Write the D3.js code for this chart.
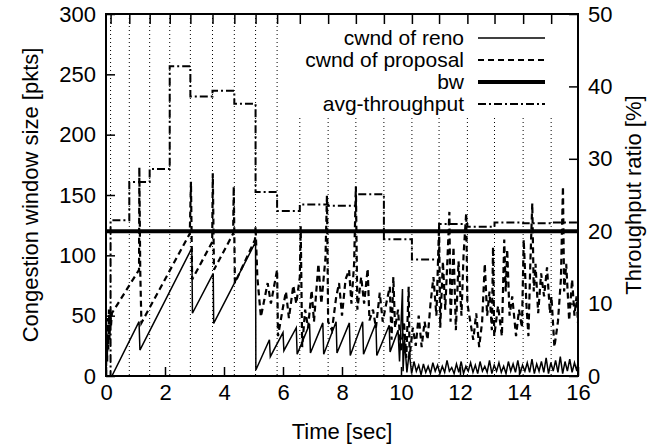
<!DOCTYPE html>
<html>
<head>
<meta charset="utf-8">
<style>
  body { margin: 0; background: #fff; }
  text { font-family: "Liberation Sans", Arial, sans-serif; font-size: 22px; fill: #000; }
</style>
</head>
<body>
<script src="https://cdn.jsdelivr.net/npm/d3@7"></script>
<script>

// cwnd of reno [time sec, pkts]
var renoCwnd = [[0, 0], [0.2, 0], [1.12, 45], [1.15, 21.5], [2.91, 106], [2.93, 52],
  [3.635, 85], [3.65, 43.6], [5.07, 111], [5.08, 5],
  [5.54, 30], [5.57, 16], [6.0, 36], [6.03, 21], [6.45, 40], [6.48, 18], [6.9, 43], [6.93, 19],
  [7.35, 44], [7.38, 18], [7.8, 45], [7.83, 19], [8.25, 44], [8.28, 17], [8.7, 45], [8.73, 18],
  [9.15, 44], [9.18, 17], [9.6, 42], [9.63, 20], [9.9, 38], [9.95, 12], [10.05, 72], [10.07, 4],
  [10.12, 30], [10.2, 3], [10.28, 20], [10.36, 2], [10.44, 12], [10.52, 4], [10.6, 9], [10.68, 1],
  [10.76, 10], [10.84, 3], [10.92, 8], [11.0, 2], [11.08, 11], [11.16, 4], [11.24, 9], [11.32, 2],
  [11.4, 8], [11.48, 3], [11.56, 13], [11.64, 4], [11.72, 7], [11.8, 2], [11.88, 10], [11.96, 3],
  [12.04, 12], [12.12, 2], [12.2, 8], [12.28, 4], [12.36, 11], [12.44, 3], [12.52, 9], [12.6, 2],
  [12.68, 12], [12.76, 4], [12.84, 8], [12.92, 3], [13.0, 13], [13.08, 2], [13.16, 9], [13.24, 4],
  [13.32, 11], [13.4, 3], [13.48, 8], [13.56, 2], [13.64, 12], [13.72, 4], [13.8, 10], [13.88, 3],
  [13.96, 13], [14.04, 2], [14.12, 9], [14.2, 4], [14.28, 11], [14.36, 3], [14.44, 14], [14.52, 2],
  [14.6, 10], [14.68, 4], [14.76, 12], [14.84, 3], [14.92, 15], [15.0, 2], [15.08, 11], [15.16, 4],
  [15.24, 13], [15.32, 3], [15.4, 16], [15.48, 2], [15.56, 12], [15.64, 4], [15.72, 14], [15.8, 3],
  [15.88, 11], [15.96, 4], [16.0, 12]];

// cwnd of proposal [time sec, pkts]
var propCwnd = [[0, 0], [0.02, 35], [0.04, 12], [0.06, 48], [0.08, 22], [0.1, 55], [0.12, 30],
  [0.145, 55], [0.17, 42], [0.2, 52],
  [1.12, 88], [1.13, 173], [1.16, 88], [1.2, 44], [2.84, 118], [2.88, 161], [2.92, 80],
  [3.6, 111], [3.62, 168], [3.66, 88], [4.31, 118], [4.33, 157], [4.37, 77], [5.05, 113], [5.07, 124],
  [5.13, 82], [5.25, 49], [5.48, 77], [5.59, 60], [5.8, 88], [5.83, 33], [6.0, 57], [6.1, 70],
  [6.2, 48], [6.35, 75], [6.45, 60], [6.57, 82], [6.6, 124], [6.65, 24],
  [6.75, 55], [6.85, 40], [6.97, 71], [7.05, 45], [7.2, 93], [7.3, 60], [7.44, 98], [7.49, 150],
  [7.53, 45], [7.66, 38], [7.8, 65], [7.9, 77], [8.0, 50], [8.12, 80], [8.24, 88],
  [8.32, 60], [8.41, 93], [8.47, 157], [8.52, 55], [8.65, 82], [8.75, 60], [8.87, 89], [8.93, 46],
  [9.05, 55], [9.15, 40], [9.28, 69], [9.38, 45], [9.5, 60], [9.62, 74],
  [9.68, 30], [9.74, 82], [9.8, 40], [9.9, 55], [10.0, 20], [10.1, 45], [10.18, 15], [10.26, 74],
  [10.29, 16], [10.4, 40], [10.5, 25], [10.6, 50], [10.7, 24], [10.8, 45],
  [10.9, 30], [11.0, 60], [11.1, 82], [11.2, 50], [11.29, 124], [11.33, 40], [11.42, 95], [11.5, 55],
  [11.58, 100], [11.64, 136], [11.68, 45], [11.78, 107], [11.86, 38],
  [11.95, 95], [12.05, 50], [12.12, 100], [12.21, 135], [12.25, 60], [12.35, 45], [12.45, 30],
  [12.55, 52], [12.65, 24], [12.75, 45], [12.84, 93], [12.92, 50],
  [13.0, 70], [13.08, 38], [13.12, 107], [13.16, 33], [13.29, 58], [13.42, 33], [13.5, 113],
  [13.55, 70], [13.6, 105], [13.68, 50], [13.77, 66], [13.9, 33], [14.0, 55],
  [14.1, 40], [14.16, 113], [14.25, 60], [14.32, 33], [14.38, 90], [14.45, 143], [14.5, 70],
  [14.56, 93], [14.65, 52], [14.75, 85], [14.85, 66], [14.95, 90],
  [15.05, 52], [15.1, 66], [15.2, 24], [15.32, 45], [15.42, 80], [15.49, 157], [15.53, 70],
  [15.6, 93], [15.7, 46], [15.8, 80], [15.88, 50], [15.95, 66], [16.0, 44]];

// bottleneck bandwidth [pkts]
var bwLevel = 120;

// avg-throughput [%], one value per interval starting at avgT[i]
var avgT = [0.155, 0.79, 1.48, 2.16, 2.86, 3.61, 4.35, 5.07, 5.80, 6.57,
  7.53, 8.47, 9.42, 10.37, 11.29, 12.25, 13.17, 14.14, 15.09, 16.0];
var avgV = [21.5, 26.8, 28.6, 42.8, 38.6, 39.4, 37.6, 25.4, 22.8, 23.7,
  23.5, 25.1, 18.9, 16.1, 21.0, 20.6, 21.2, 21.1, 21.2, 21.2];

var xTicks = [0, 2, 4, 6, 8, 10, 12, 14, 16];
var yTicks = [0, 50, 100, 150, 200, 250, 300];
var y2Ticks = [0, 10, 20, 30, 40, 50];

var legendNames = ["cwnd of reno", "cwnd of proposal", "bw", "avg-throughput"];

var W = 661, H = 447;
var margin = {top: 14, right: 83, bottom: 71, left: 106};
var width = W - margin.left - margin.right,
    height = H - margin.top - margin.bottom;

var x = d3.scaleLinear().domain([0, 16]).range([0, width]);
var y = d3.scaleLinear().domain([0, 300]).range([height, 0]);
var y2 = d3.scaleLinear().domain([0, 50]).range([height, 0]);

var svg = d3.select("body").append("svg")
  .attr("width", W)
  .attr("height", H);

var g = svg.append("g")
  .attr("transform", "translate(" + margin.left + "," + margin.top + ")");

g.append("clipPath").attr("id", "clip")
  .append("rect").attr("width", width).attr("height", height);

// dotted x2 grid
g.append("g").selectAll("line")
  .data(avgT.slice(0, -1))
  .enter().append("line")
  .attr("x1", function(d) { return x(d); })
  .attr("x2", function(d) { return x(d); })
  .attr("y1", 0)
  .attr("y2", height)
  .attr("stroke", "#000")
  .attr("stroke-width", 1)
  .attr("stroke-dasharray", "1,3");

var plot = g.append("g").attr("clip-path", "url(#clip)");

var line = d3.line()
  .x(function(d) { return x(d[0]); })
  .y(function(d) { return y(d[1]); });

plot.append("path").datum(renoCwnd)
  .attr("d", line)
  .attr("fill", "none")
  .attr("stroke", "#000")
  .attr("stroke-width", 1.5);

plot.append("path").datum(propCwnd)
  .attr("d", line)
  .attr("fill", "none")
  .attr("stroke", "#000")
  .attr("stroke-width", 2.2)
  .attr("stroke-dasharray", "6,4");

plot.append("line")
  .attr("x1", 0).attr("x2", width)
  .attr("y1", y(bwLevel)).attr("y2", y(bwLevel))
  .attr("stroke", "#000")
  .attr("stroke-width", 4);

var avgLine = d3.line()
  .curve(d3.curveStepAfter)
  .x(function(d) { return x(d[0]); })
  .y(function(d) { return y2(d[1]); });

var avg = [[0.07, 0]].concat(avgT.map(function(t, i) { return [t, avgV[i]]; }));

plot.append("path").datum(avg)
  .attr("d", avgLine)
  .attr("fill", "none")
  .attr("stroke", "#000")
  .attr("stroke-width", 2)
  .attr("stroke-dasharray", "8,3,2,3");

// legend (opaque box)
var lg = g.append("g");
lg.append("rect")
  .attr("x", 288 - margin.left)
  .attr("y", 0)
  .attr("width", width - (288 - margin.left))
  .attr("height", 103)
  .attr("fill", "#fff");

var legendStyle = [
  {w: 1.5, dash: null},
  {w: 2.2, dash: "6,4"},
  {w: 4, dash: null},
  {w: 2, dash: "8,3,2,3"}
];

var legend = lg.selectAll(".legend")
  .data(legendNames)
  .enter().append("g")
  .attr("class", "legend")
  .attr("transform", function(d, i) { return "translate(0," + (24 + i * 22) + ")"; });

legend.append("text")
  .attr("x", 464 - margin.left)
  .attr("dy", "0.35em")
  .style("font-size", "21px")
  .style("text-anchor", "end")
  .text(function(d) { return d; });

legend.append("line")
  .attr("x1", 478 - margin.left)
  .attr("x2", 545 - margin.left)
  .attr("stroke", "#000")
  .attr("stroke-width", function(d, i) { return legendStyle[i].w; })
  .attr("stroke-dasharray", function(d, i) { return legendStyle[i].dash; });

// axes with inward ticks
var xAxis = d3.axisBottom(x).tickValues(xTicks).tickSize(-9).tickPadding(8).tickFormat(d3.format("d"));
var x2Axis = d3.axisTop(x).tickValues(avgT.slice(0, -1)).tickSize(-10).tickFormat("");
var yAxis = d3.axisLeft(y).tickValues(yTicks).tickSize(-9).tickPadding(10);
var y2Axis = d3.axisRight(y2).tickValues(y2Ticks).tickSize(-9).tickPadding(10);

function styleAxis(sel) {
  sel.select(".domain").remove();
  sel.selectAll("line").attr("stroke", "#000").attr("stroke-width", 1.5);
  sel.selectAll("text").style("font-size", "22px")
    .style("font-family", "'Liberation Sans', Arial, sans-serif");
  sel.attr("font-size", null).attr("font-family", null);
}

g.append("g").attr("transform", "translate(0," + height + ")").call(xAxis).call(styleAxis);
g.append("g").call(x2Axis).call(styleAxis);
g.append("g").call(yAxis).call(styleAxis);
g.append("g").attr("transform", "translate(" + width + ",0)").call(y2Axis).call(styleAxis);

// frame
g.append("rect")
  .attr("width", width)
  .attr("height", height)
  .attr("fill", "none")
  .attr("stroke", "#000")
  .attr("stroke-width", 2);

// axis titles
g.append("text")
  .attr("x", width / 2)
  .attr("y", height + 63)
  .style("text-anchor", "middle")
  .text("Time [sec]");

g.append("text")
  .attr("transform", "translate(" + (30 - margin.left) + "," + (height / 2) + ") rotate(-90)")
  .attr("dy", "0.35em")
  .style("text-anchor", "middle")
  .text("Congestion window size [pkts]");

g.append("text")
  .attr("transform", "translate(" + (633 - margin.left) + "," + (height / 2) + ") rotate(-90)")
  .attr("dy", "0.35em")
  .style("text-anchor", "middle")
  .text("Throughput ratio [%]");

</script>
</body>
</html>
